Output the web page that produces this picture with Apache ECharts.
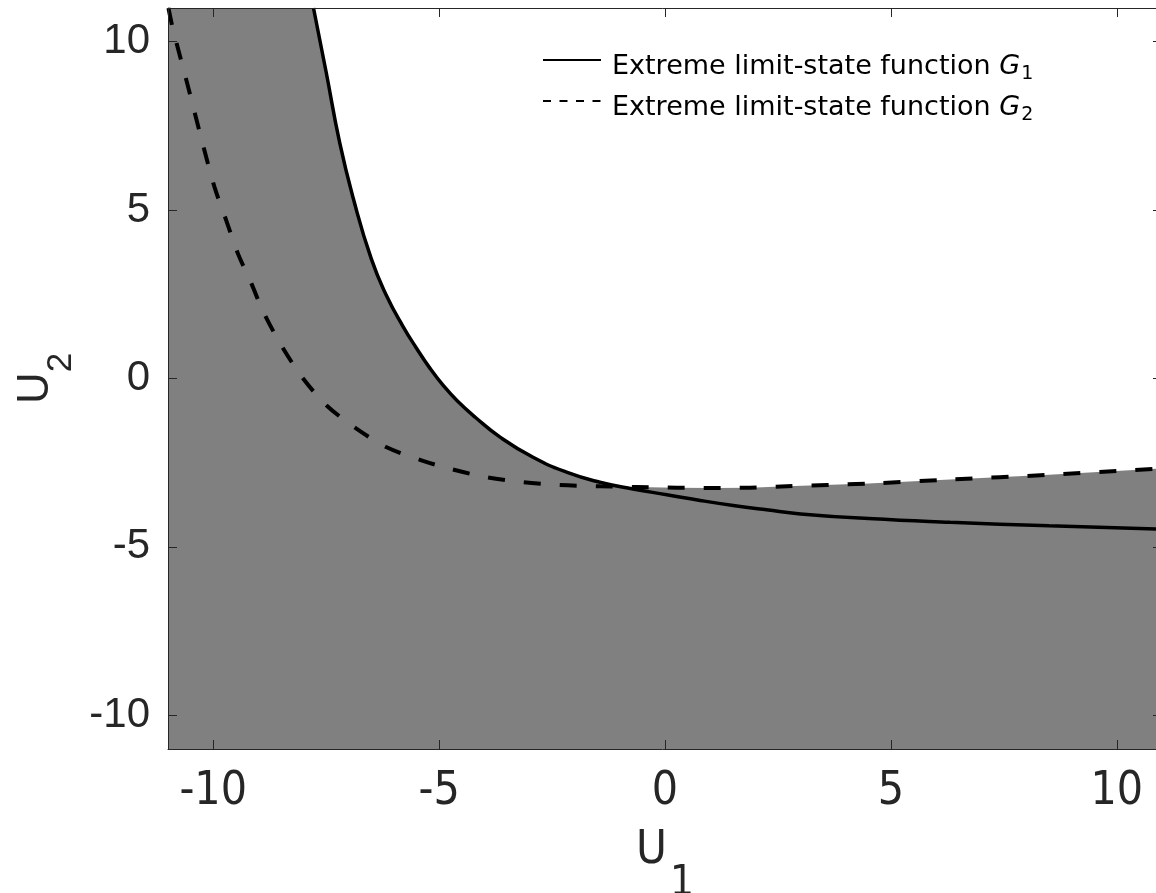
<!DOCTYPE html>
<html>
<head>
<meta charset="utf-8">
<script src="https://cdn.jsdelivr.net/npm/echarts@6/dist/echarts.min.js"></script>
<style>
  html, body { margin: 0; padding: 0; background: #fff; }
  #chart { width: 1156px; height: 893px; }
</style>
</head>
<body>
<div id="chart"></div>
<script>
// axis range and ticks
const u1Range = [-11, 11]
const u2Range = [-11, 11]
const u1Ticks = [-10, -5, 0, 5, 10]
const u2Ticks = [-10, -5, 0, 5, 10]

// extreme limit-state function G1 (solid)
const g1U1 = [-7.78, -7.50, -7.20, -6.90, -6.50, -6.16, -5.80, -5.50, -5.20, -4.90, -4.60, -4.20, -3.65, -2.92, -2.18, -1.44, -0.71, 0.04, 0.78, 1.51, 2.25, 3.00, 4.50, 6.31, 8.50, 11.00]
const g1U2 = [11.00, 9.10, 7.00, 5.35, 3.55, 2.45, 1.55, 0.90, 0.30, -0.22, -0.66, -1.15, -1.74, -2.34, -2.78, -3.08, -3.28, -3.45, -3.62, -3.77, -3.90, -4.02, -4.16, -4.27, -4.37, -4.47]

// extreme limit-state function G2 (dashed)
const g2U1 = [-10.99, -10.89, -10.59, -10.23, -9.97, -9.71, -9.45, -9.15, -8.90, -8.47, -8.01, -7.49, -6.83, -6.16, -5.39, -4.76, -3.95, -3.14, -2.33, -1.44, -0.63, 0.26, 1.07, 1.88, 2.70, 4.50, 6.31, 8.50, 11.00]
const g2U2 = [11.00, 10.37, 8.84, 6.96, 5.68, 4.69, 3.70, 2.81, 2.00, 0.93, 0.00, -0.80, -1.49, -2.04, -2.43, -2.68, -2.93, -3.08, -3.16, -3.20, -3.22, -3.24, -3.25, -3.24, -3.20, -3.12, -3.00, -2.86, -2.67]

// where the two curves cross
const crossing = [-0.85, -3.22]

const names = ['Extreme limit-state function G1', 'Extreme limit-state function G2']

const zip = (xs, ys) => xs.map((x, i) => [x, ys[i]])
const g1 = zip(g1U1, g1U2)
const g2 = zip(g2U1, g2U2)

// upper boundary of the grey region: max of the two curves
const envelope = [[u1Range[0], u2Range[1]]]
  .concat(g1.filter(p => p[0] < crossing[0]))
  .concat([crossing])
  .concat(g2.filter(p => p[0] > crossing[0]))

const axisColor = '#262626'
const tickFont = 'Liberation Sans, Arial, sans-serif'
const narrowFont = '"Liberation Sans Narrow", "DejaVu Sans Condensed", sans-serif'
const legendFont = 'DejaVu Sans, sans-serif'

const frameAxis = (pos, isX) => ({
  type: 'value',
  position: pos,
  min: isX ? u1Range[0] : u2Range[0],
  max: isX ? u1Range[1] : u2Range[1],
  z: 10,
  splitLine: { show: false },
  axisLine: { show: true, onZero: false, lineStyle: { color: axisColor, width: 1 } },
  axisTick: { show: true, inside: true, length: 9, customValues: isX ? u1Ticks : u2Ticks, lineStyle: { color: axisColor } },
  axisLabel: { show: false }
})

const chart = echarts.init(document.getElementById('chart'))

chart.setOption({
  animation: false,
  backgroundColor: '#fff',
  grid: { left: 168, top: 8, width: 994, height: 741, outerBoundsMode: 'none', containLabel: false },
  legend: {
    orient: 'vertical',
    left: 542,
    top: 46,
    padding: 0,
    itemWidth: 58,
    itemHeight: 20,
    itemGap: 3,
    itemTextGap: 13,
    itemStyle: { opacity: 0 },
    data: [
      { name: names[0], lineStyle: { width: 2, type: 'solid', color: '#000' } },
      { name: names[1], lineStyle: { width: 2, type: [8, 8.5], color: '#000' } }
    ],
    formatter: name => '{t|Extreme limit-state function }{g|G}{s|' + name.slice(-1) + '}',
    textStyle: {
      rich: {
        t: { fontFamily: legendFont, fontSize: 27, color: '#000', lineHeight: 28, padding: [7, 0, 0, 6], verticalAlign: 'top' },
        g: { fontFamily: legendFont, fontStyle: 'italic', fontSize: 27, color: '#000', lineHeight: 28, padding: [7, 0, 0, 0], verticalAlign: 'top' },
        s: { fontFamily: legendFont, fontSize: 19, color: '#000', lineHeight: 19, padding: [19, 0, 0, 1], verticalAlign: 'top' }
      }
    }
  },
  xAxis: [
    {
      type: 'value',
      position: 'bottom',
      min: u1Range[0],
      max: u1Range[1],
      z: 10,
      name: '{u|U}{s|1}',
      nameLocation: 'middle',
      nameGap: 78,
      nameTextStyle: {
        rich: {
          u: { fontFamily: narrowFont, fontSize: 47, color: axisColor, lineHeight: 47, verticalAlign: 'top' },
          s: { fontFamily: narrowFont, fontSize: 42, color: axisColor, lineHeight: 42, padding: [36, 0, 0, 3], verticalAlign: 'top' }
        }
      },
      splitLine: { show: false },
      axisLine: { show: true, onZero: false, lineStyle: { color: axisColor, width: 1 } },
      axisTick: { show: true, inside: true, length: 9, customValues: u1Ticks, lineStyle: { color: axisColor } },
      axisLabel: { customValues: u1Ticks, margin: 20, fontSize: 46, fontFamily: narrowFont, color: axisColor }
    },
    frameAxis('top', true)
  ],
  yAxis: [
    {
      type: 'value',
      position: 'left',
      min: u2Range[0],
      max: u2Range[1],
      z: 10,
      name: '{u|U}{s|2}',
      nameLocation: 'middle',
      nameGap: 97,
      nameTextStyle: {
        rich: {
          u: { fontFamily: tickFont, fontSize: 44, color: axisColor, lineHeight: 44, verticalAlign: 'top' },
          s: { fontFamily: tickFont, fontSize: 35, color: axisColor, lineHeight: 35, padding: [30, 0, 0, 0], verticalAlign: 'top' }
        }
      },
      splitLine: { show: false },
      axisLine: { show: true, onZero: false, lineStyle: { color: axisColor, width: 1 } },
      axisTick: { show: true, inside: true, length: 9, customValues: u2Ticks, lineStyle: { color: axisColor } },
      axisLabel: { customValues: u2Ticks, margin: 18, fontSize: 42, fontFamily: tickFont, color: axisColor }
    },
    frameAxis('right', false)
  ],
  series: [
    {
      name: 'region',
      type: 'line',
      data: envelope,
      symbol: 'none',
      silent: true,
      z: 1,
      lineStyle: { width: 0 },
      areaStyle: { color: '#808080', opacity: 1, origin: 'start' }
    },
    {
      name: names[0],
      type: 'line',
      data: g1,
      symbol: 'none',
      smooth: 0.5,
      z: 3,
      lineStyle: { color: '#000', width: 3.5, type: 'solid' }
    },
    {
      name: names[1],
      type: 'line',
      data: g2,
      symbol: 'none',
      smooth: 0.3,
      z: 3,
      lineStyle: { color: '#000', width: 4, type: [17, 19] }
    }
  ]
})
</script>
</body>
</html>
